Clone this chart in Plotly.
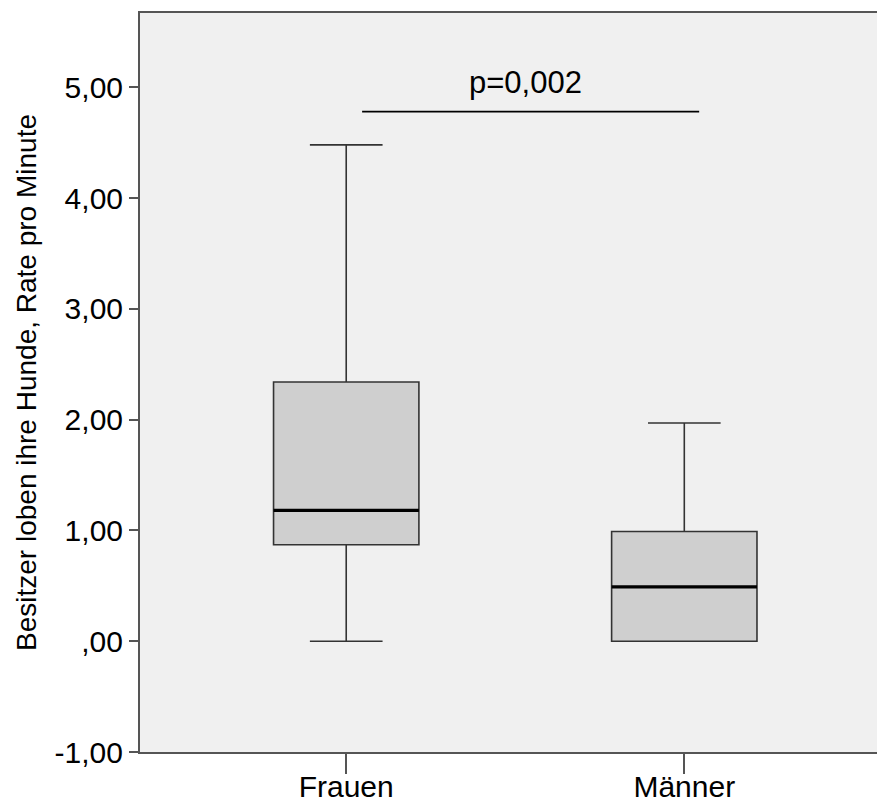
import plotly.graph_objects as go

categories = ["Frauen", "Männer"]
lower_whisker = [0.00, 0.00]
q1_values = [0.87, 0.00]
median_values = [1.18, 0.49]
q3_values = [2.34, 0.99]
upper_whisker = [4.48, 1.97]

y_tickvals = [-1, 0, 1, 2, 3, 4, 5]
y_ticktext = ["-1,00", ",00", "1,00", "2,00", "3,00", "4,00", "5,00"]

p_label = "p=0,002"
p_line_y = 4.78

FONT = "Liberation Sans, Arial, sans-serif"
BOX_W = 0.43

fig = go.Figure()
fig.add_trace(go.Box(
    x=categories,
    q1=q1_values, median=median_values, q3=q3_values,
    lowerfence=lower_whisker, upperfence=upper_whisker,
    width=BOX_W, whiskerwidth=0.5,
    fillcolor="rgb(207,207,207)",
    line=dict(color="#333333", width=1.6),
    boxpoints=False, hoverinfo="skip", showlegend=False,
))

# thick median lines
for i, m in enumerate(median_values):
    fig.add_shape(type="line", xref="x", yref="y",
                  x0=i - BOX_W / 2, x1=i + BOX_W / 2, y0=m, y1=m,
                  line=dict(color="black", width=3.2))

# significance bar
fig.add_shape(type="line", xref="x", yref="y",
              x0=0.047, x1=1.044, y0=p_line_y, y1=p_line_y,
              line=dict(color="black", width=1.6))
fig.add_annotation(x=0.53, y=5.04, xref="x", yref="y", text=p_label,
                   showarrow=False, font=dict(family=FONT, size=31, color="black"))

fig.update_layout(
    width=877, height=807,
    margin=dict(l=140, r=0, t=13, b=55, autoexpand=False),
    paper_bgcolor="white", plot_bgcolor="#F0F0F0",
    font=dict(family=FONT, color="black"),
    xaxis=dict(
        type="category", range=[-0.61, 1.57], automargin=False,
        showgrid=False, zeroline=False,
        showline=True, linecolor="#555555", linewidth=2, mirror=True,
        ticks="outside", ticklen=20, tickwidth=1.5, tickcolor="#555555",
        tickfont=dict(family=FONT, size=30, color="black"),
        ticklabelstandoff=-13,
    ),
    yaxis=dict(
        range=[-1, 5.67], automargin=False,
        tickvals=y_tickvals, ticktext=y_ticktext,
        showgrid=False, zeroline=False,
        showline=True, linecolor="#555555", linewidth=2,
        ticks="outside", ticklen=9, tickwidth=1.5, tickcolor="#555555",
        tickfont=dict(family=FONT, size=30, color="black"),
        title=dict(text="Besitzer loben ihre Hunde, Rate pro Minute",
                   font=dict(family=FONT, size=28, color="black"), standoff=10),
    ),
)

fig.write_html("out.html", config={"displayModeBar": False},
               post_script="document.body.style.margin='0';document.body.style.overflow='hidden';")
